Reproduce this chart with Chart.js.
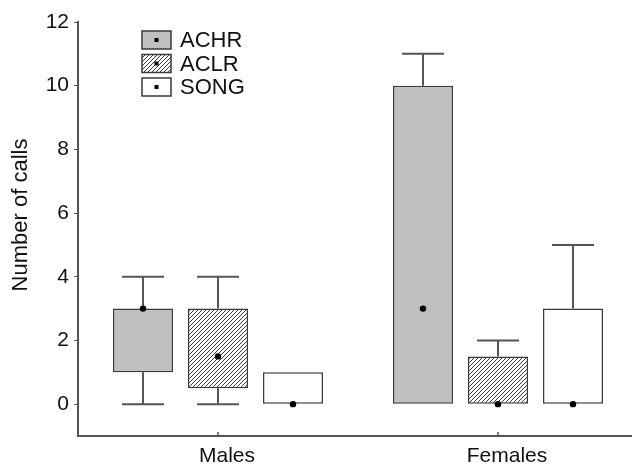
<!DOCTYPE html>
<html>
<head>
<meta charset="utf-8">
<script src="https://cdn.jsdelivr.net/npm/chart.js@4/dist/chart.umd.min.js"></script>
<style>
  html, body { margin: 0; padding: 0; background: #fff; overflow: hidden; }
  #wrap { width: 640px; height: 466px; }
</style>
</head>
<body>
<div id="wrap"><canvas id="myChart"></canvas></div>
<script>
// categories and series
const groups = ['Males', 'Females'];
const seriesNames = ['ACHR', 'ACLR', 'SONG'];

// box = [lower quartile, upper quartile], range = [min, max]
const achrBox = [[1, 3], [0, 10]];
const achrRange = [[0, 4], [0, 11]];
const achrMedian = [3, 3];

const aclrBox = [[0.5, 3], [0, 1.5]];
const aclrRange = [[0, 4], [0, 2]];
const aclrMedian = [1.5, 0];

const songBox = [[0, 1], [0, 3]];
const songRange = [[0, 1], [0, 5]];
const songMedian = [0, 0];

const yTicks = [0, 2, 4, 6, 8, 10, 12];
const yTitle = 'Number of calls';

// hatch pattern for ACLR
function hatch() {
    const c = document.createElement('canvas');
    c.width = 4; c.height = 4;
    const g = c.getContext('2d');
    g.fillStyle = '#fff';
    g.fillRect(0, 0, 4, 4);
    g.strokeStyle = '#3c3c3c';
    g.lineWidth = 1;
    g.beginPath();
    g.moveTo(-1, 5); g.lineTo(5, -1);
    g.stroke();
    return g.createPattern(c, 'repeat');
}
const hatchFill = hatch();

const fills = ['#c0c0c0', hatchFill, '#ffffff'];
const ranges = [achrRange, aclrRange, songRange];
const medians = [achrMedian, aclrMedian, songMedian];

const fontFamily = '"Liberation Sans", Arial, sans-serif';
const lineCol = '#555555';

// whiskers, medians, x ticks, y title and the inside legend
const boxExtras = {
    id: 'boxExtras',
    afterDatasetsDraw(chart) {
        const ctx = chart.ctx;
        const y = chart.scales.y;
        const x = chart.scales.x;
        ctx.save();
        chart.data.datasets.forEach((ds, i) => {
            const meta = chart.getDatasetMeta(i);
            meta.data.forEach((bar, j) => {
                const [lo, hi] = ds.data[j];
                const [mn, mx] = ranges[i][j];
                const cap = bar.width * 0.7 / 2;
                ctx.strokeStyle = lineCol;
                ctx.lineWidth = 2;
                if (mx > hi) {
                    ctx.beginPath();
                    ctx.moveTo(bar.x, y.getPixelForValue(hi));
                    ctx.lineTo(bar.x, y.getPixelForValue(mx));
                    ctx.moveTo(bar.x - cap, y.getPixelForValue(mx));
                    ctx.lineTo(bar.x + cap, y.getPixelForValue(mx));
                    ctx.stroke();
                }
                if (mn < lo) {
                    ctx.beginPath();
                    ctx.moveTo(bar.x, y.getPixelForValue(lo));
                    ctx.lineTo(bar.x, y.getPixelForValue(mn));
                    ctx.moveTo(bar.x - cap, y.getPixelForValue(mn));
                    ctx.lineTo(bar.x + cap, y.getPixelForValue(mn));
                    ctx.stroke();
                }
                ctx.fillStyle = '#000';
                ctx.beginPath();
                ctx.arc(bar.x, y.getPixelForValue(medians[i][j]), 3.2, 0, Math.PI * 2);
                ctx.fill();
            });
        });

        // small inward ticks on the x axis
        ctx.strokeStyle = lineCol;
        ctx.lineWidth = 1.5;
        groups.forEach((g, j) => {
            const px = x.getPixelForValue(j);
            ctx.beginPath();
            ctx.moveTo(px, x.top);
            ctx.lineTo(px, x.top - 4);
            ctx.stroke();
        });

        // y axis title
        ctx.fillStyle = '#111';
        ctx.font = '22px ' + fontFamily;
        ctx.textAlign = 'center';
        ctx.textBaseline = 'middle';
        ctx.translate(21, 215);
        ctx.rotate(-Math.PI / 2);
        ctx.fillText(yTitle, 0, 0);
        ctx.setTransform(1, 0, 0, 1, 0, 0);

        // legend
        ctx.font = '22px ' + fontFamily;
        ctx.textBaseline = 'middle';
        ctx.textAlign = 'left';
        chart.data.datasets.forEach((ds, i) => {
            const bx = 142, by = 31 + i * 23.5, bw = 29, bh = 18;
            ctx.fillStyle = fills[i];
            ctx.fillRect(bx, by, bw, bh);
            ctx.strokeStyle = '#3a3a3a';
            ctx.lineWidth = 1.5;
            ctx.strokeRect(bx, by, bw, bh);
            ctx.fillStyle = '#000';
            ctx.fillRect(bx + bw / 2 - 2, by + bh / 2 - 2, 4, 4);
            ctx.fillStyle = '#111';
            ctx.fillText(ds.label, 180, by + bh / 2 + 1);
        });
        ctx.restore();
    }
};

const ctx = document.getElementById('myChart').getContext('2d');
new Chart(ctx, {
    type: 'bar',
    data: {
        labels: groups,
        datasets: [
            { label: seriesNames[0], data: achrBox, backgroundColor: fills[0] },
            { label: seriesNames[1], data: aclrBox, backgroundColor: fills[1] },
            { label: seriesNames[2], data: songBox, backgroundColor: fills[2] }
        ].map(d => Object.assign(d, {
            borderColor: '#3a3a3a',
            borderWidth: 1.5,
            borderSkipped: false,
            categoryPercentage: 0.8036,
            barPercentage: 0.8
        }))
    },
    options: {
        responsive: true,
        maintainAspectRatio: false,
        animation: false,
        layout: { padding: { top: 22, right: 2, left: 0, bottom: 0 } },
        plugins: {
            legend: { display: false },
            tooltip: { enabled: false }
        },
        scales: {
            x: {
                grid: { display: false, tickLength: 0 },
                border: { color: lineCol, width: 2 },
                ticks: {
                    color: '#111',
                    font: { size: 21, family: fontFamily },
                    padding: 8,
                    labelOffset: 9
                },
                afterFit(scale) { scale.height = 30; }
            },
            y: {
                min: -1,
                max: 12,
                afterBuildTicks(scale) { scale.ticks = yTicks.map(v => ({ value: v })); },
                grid: { display: true, drawOnChartArea: false, tickLength: 4, color: lineCol, lineWidth: 1 },
                border: { color: lineCol, width: 2 },
                ticks: {
                    color: '#111',
                    font: { size: 21, family: fontFamily },
                    padding: 5
                },
                afterFit(scale) { scale.width = 78; }
            }
        }
    },
    plugins: [boxExtras]
});
</script>
</body>
</html>
